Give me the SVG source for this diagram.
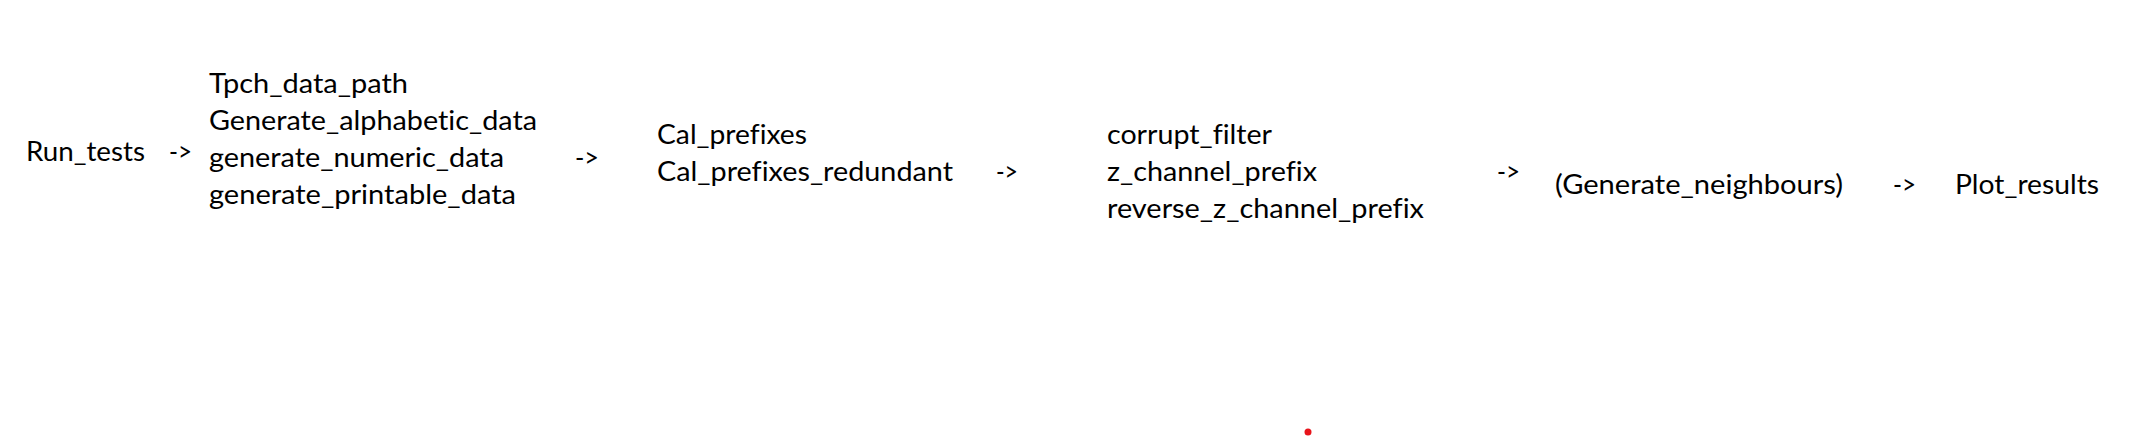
<svg xmlns="http://www.w3.org/2000/svg" width="2154" height="437" viewBox="0 0 2154 437">
<style>
text{font-family:Lato,"Open Sans","Liberation Sans",sans-serif;font-size:27px;fill:#000;font-variant-ligatures:none;font-feature-settings:"liga" 0}
</style>
<rect width="2154" height="437" fill="#fff"/>
<g id="run_tests"><text x="26" y="161" textLength="119" lengthAdjust="spacingAndGlyphs">Run_tests</text></g>
<g id="data_generation">
<text x="209" y="93" textLength="199" lengthAdjust="spacingAndGlyphs">Tpch_data_path</text>
<text x="209" y="130" textLength="328" lengthAdjust="spacingAndGlyphs">Generate_alphabetic_data</text>
<text x="209" y="167" textLength="295" lengthAdjust="spacingAndGlyphs">generate_numeric_data</text>
<text x="209" y="204" textLength="307" lengthAdjust="spacingAndGlyphs">generate_printable_data</text>
</g>
<g id="prefixes">
<text x="657" y="144" textLength="150" lengthAdjust="spacingAndGlyphs">Cal_prefixes</text>
<text x="657" y="181" textLength="296" lengthAdjust="spacingAndGlyphs">Cal_prefixes_redundant</text>
</g>
<g id="filters">
<text x="1107" y="144" textLength="165" lengthAdjust="spacingAndGlyphs">corrupt_filter</text>
<text x="1107" y="181" textLength="210" lengthAdjust="spacingAndGlyphs">z_channel_prefix</text>
<text x="1107" y="218" textLength="317" lengthAdjust="spacingAndGlyphs">reverse_z_channel_prefix</text>
</g>
<g id="generate_neighbours"><text x="1555" y="194" textLength="288" lengthAdjust="spacingAndGlyphs">(Generate_neighbours)</text></g>
<g id="plot_results"><text x="1955" y="194" textLength="144" lengthAdjust="spacingAndGlyphs">Plot_results</text></g>
<g id="connectors">
<text x="169" y="161" textLength="23" lengthAdjust="spacingAndGlyphs">-&gt;</text>
<text x="575" y="167" textLength="24" lengthAdjust="spacingAndGlyphs">-&gt;</text>
<text x="996" y="181" textLength="22" lengthAdjust="spacingAndGlyphs">-&gt;</text>
<text x="1497" y="181" textLength="23" lengthAdjust="spacingAndGlyphs">-&gt;</text>
<text x="1893" y="194" textLength="23" lengthAdjust="spacingAndGlyphs">-&gt;</text>
</g>
<circle cx="1308" cy="432" r="3.5" fill="#e8141b"/>
</svg>
